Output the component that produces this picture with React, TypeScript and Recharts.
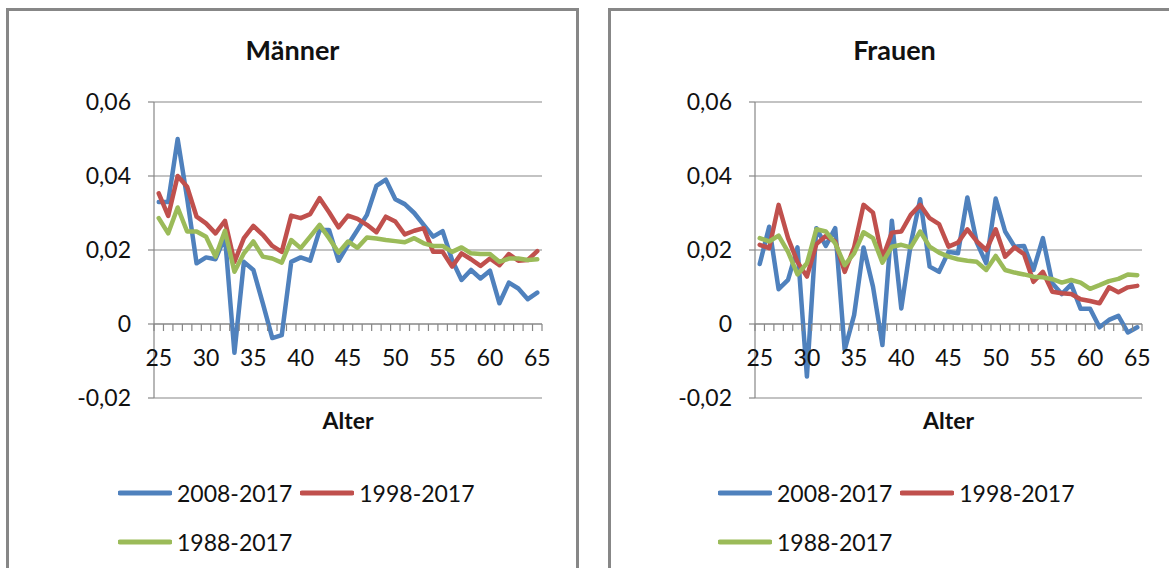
import React from 'react';
import { LineChart, Line, XAxis, YAxis, CartesianGrid, ReferenceLine } from 'recharts';

const ages = [25, 26, 27, 28, 29, 30, 31, 32, 33, 34, 35, 36, 37, 38, 39, 40, 41, 42, 43, 44, 45, 46, 47, 48, 49, 50, 51, 52, 53, 54, 55, 56, 57, 58, 59, 60, 61, 62, 63, 64, 65];
const xLabelAges = [25, 30, 35, 40, 45, 50, 55, 60, 65];
const yTicks = [-0.02, 0, 0.02, 0.04, 0.06];

const seriesNames = ['2008-2017', '1998-2017', '1988-2017'];
const seriesColors = ['#4F81BD', '#C0504D', '#9BBB59'];

const menBlue = [0.033, 0.033, 0.05, 0.034, 0.0164, 0.018, 0.0175, 0.0236, -0.0078, 0.0168, 0.0146, 0.0056, -0.0038, -0.003, 0.0168, 0.018, 0.0171, 0.0254, 0.0254, 0.0171, 0.0214, 0.0254, 0.0295, 0.0373, 0.039, 0.0337, 0.0324, 0.03, 0.0268, 0.0236, 0.0251, 0.0173, 0.0119, 0.0146, 0.0123, 0.0144, 0.0056, 0.0112, 0.0096, 0.0067, 0.0085];
const menRed = [0.0353, 0.0292, 0.04, 0.0371, 0.029, 0.0272, 0.0245, 0.0279, 0.0168, 0.0232, 0.0265, 0.0241, 0.0211, 0.0195, 0.0293, 0.0286, 0.0297, 0.034, 0.0302, 0.0261, 0.0293, 0.0284, 0.0268, 0.0248, 0.029, 0.0277, 0.0242, 0.0252, 0.0259, 0.0195, 0.0195, 0.0155, 0.0191, 0.0175, 0.0157, 0.0177, 0.0159, 0.0189, 0.0171, 0.0173, 0.0197];
const menGreen = [0.0286, 0.0245, 0.0315, 0.025, 0.025, 0.0236, 0.0182, 0.0252, 0.0141, 0.0191, 0.0223, 0.0182, 0.0177, 0.0166, 0.0227, 0.0205, 0.0236, 0.0268, 0.0232, 0.0193, 0.0223, 0.0206, 0.0234, 0.0231, 0.0227, 0.0224, 0.0221, 0.0232, 0.0218, 0.0211, 0.0211, 0.0195, 0.0207, 0.0191, 0.0189, 0.0189, 0.0168, 0.0177, 0.0177, 0.0173, 0.0175];

const womenBlue = [0.0162, 0.0263, 0.0094, 0.0119, 0.0207, -0.0142, 0.0259, 0.0211, 0.0259, -0.007, 0.0024, 0.0207, 0.0101, -0.0057, 0.0279, 0.0042, 0.0216, 0.0337, 0.0155, 0.0141, 0.0195, 0.0191, 0.0342, 0.022, 0.0164, 0.0339, 0.025, 0.0209, 0.0211, 0.0146, 0.0232, 0.011, 0.0081, 0.0107, 0.0041, 0.0041, -0.0009, 0.0011, 0.0022, -0.0023, -0.0009];
const womenRed = [0.0214, 0.0205, 0.0322, 0.0232, 0.0168, 0.0128, 0.0216, 0.0238, 0.0223, 0.0141, 0.0207, 0.0322, 0.0301, 0.0177, 0.0247, 0.025, 0.0295, 0.0322, 0.0286, 0.027, 0.0209, 0.022, 0.0256, 0.0223, 0.02, 0.0256, 0.0182, 0.0207, 0.0189, 0.0114, 0.0141, 0.0087, 0.0083, 0.0081, 0.0067, 0.0062, 0.0056, 0.0099, 0.0086, 0.0099, 0.0103];
const womenGreen = [0.0232, 0.0223, 0.0239, 0.0195, 0.0134, 0.0164, 0.0256, 0.025, 0.0218, 0.0159, 0.0191, 0.0248, 0.0232, 0.0166, 0.0209, 0.0214, 0.0207, 0.025, 0.0209, 0.0193, 0.0182, 0.0175, 0.0171, 0.0168, 0.0146, 0.0184, 0.0146, 0.0139, 0.0134, 0.0128, 0.0126, 0.0121, 0.0112, 0.0119, 0.0112, 0.0095, 0.0105, 0.0116, 0.0122, 0.0134, 0.0132];

const FONT = 'Lato, "Liberation Sans", Arial, sans-serif';
const GRAY = '#878787';
const TEXT = '#111';

const CHART_H = 568;
const PLOT_TOP = 102;
const X_AXIS_H = 30;
const MARGIN_BOTTOM = 140;
const PLOT_BOTTOM = CHART_H - MARGIN_BOTTOM - X_AXIS_H;
const Y_MIN = -0.02;
const Y_MAX = 0.06;
const ZERO_Y = PLOT_TOP + ((PLOT_BOTTOM - PLOT_TOP) * Y_MAX) / (Y_MAX - Y_MIN);
const Y_AXIS_W = 70;

const fmtY = (v: number) => (v === 0 ? '0' : v.toFixed(2).replace('.', ','));

type PanelProps = {
  title: string;
  pageLeft: number;
  chartWidth: number;
  marginLeft: number;
  marginRight: number;
  series: number[][];
  legendLeft: number;
};

function Panel({ pageLeft, chartWidth, marginLeft, marginRight, series, legendLeft }: PanelProps) {
  const data = ages.map((age, i) => ({ age, s0: series[0][i], s1: series[1][i], s2: series[2][i] }));
  const plotLeft = marginLeft + Y_AXIS_W;
  const plotRight = chartWidth - marginRight;
  const bw = (plotRight - plotLeft) / ages.length;

  const renderTick = (p: any) => {
    const { x, index, payload } = p;
    const age = payload.value;
    return (
      <g key={`t-${index}`}>
        <line x1={x - bw / 2} x2={x - bw / 2} y1={ZERO_Y} y2={ZERO_Y + 7} stroke={GRAY} strokeWidth={1.2} />
        {index === ages.length - 1 ? (
          <line x1={x + bw / 2} x2={x + bw / 2} y1={ZERO_Y} y2={ZERO_Y + 7} stroke={GRAY} strokeWidth={1.2} />
        ) : null}
        {xLabelAges.includes(age) ? (
          <text x={x} y={ZERO_Y + 33} textAnchor="middle" dominantBaseline="central" fontSize={23} fontFamily={FONT} fill={TEXT}>
            {age}
          </text>
        ) : null}
      </g>
    );
  };

  return (
    <>
      <div
        style={{
          position: 'absolute',
          left: pageLeft + plotLeft,
          width: plotRight - plotLeft,
          top: 406,
          textAlign: 'center',
          fontFamily: FONT,
          fontWeight: 700,
          fontSize: 23,
          lineHeight: '28px',
          color: TEXT,
        }}
      >
        Alter
      </div>
      <div style={{ position: 'absolute', left: pageLeft, top: 0 }}>
        <LineChart
          width={chartWidth}
          height={CHART_H}
          data={data}
          margin={{ top: PLOT_TOP, right: marginRight, bottom: MARGIN_BOTTOM, left: marginLeft }}
        >
          <CartesianGrid vertical={false} stroke={GRAY} strokeWidth={1.2} />
          <XAxis
            dataKey="age"
            interval={0}
            tickLine={false}
            axisLine={false}
            height={X_AXIS_H}
            padding={{ left: bw / 2, right: bw / 2 }}
            tick={renderTick}
          />
          <YAxis
            type="number"
            domain={[Y_MIN, Y_MAX]}
            ticks={yTicks}
            tickFormatter={fmtY}
            width={Y_AXIS_W}
            tickSize={6}
            tickMargin={17}
            axisLine={{ stroke: GRAY, strokeWidth: 1.2 }}
            tickLine={{ stroke: GRAY, strokeWidth: 1.2 }}
            tick={{ fontSize: 23, fontFamily: FONT, fill: TEXT }}
          />
          <ReferenceLine y={0} stroke={GRAY} strokeWidth={1.2} />
          {seriesNames.map((name, k) => (
            <Line
              key={name}
              name={name}
              dataKey={`s${k}`}
              type="linear"
              stroke={seriesColors[k]}
              strokeWidth={4.5}
              strokeLinejoin="round"
              strokeLinecap="round"
              dot={false}
              activeDot={false}
              isAnimationActive={false}
            />
          ))}
        </LineChart>
      </div>
      <div
        style={{
          position: 'absolute',
          left: legendLeft,
          top: 468,
          width: 400,
          display: 'flex',
          flexWrap: 'wrap',
          fontFamily: FONT,
          fontSize: 23,
          color: TEXT,
        }}
      >
        {seriesNames.map((name, k) => (
          <div key={name} style={{ display: 'flex', alignItems: 'center', height: 49, marginRight: 8 }}>
            <svg width={54} height={8} style={{ marginRight: 5 }}>
              <line x1={2} x2={52} y1={4} y2={4} stroke={seriesColors[k]} strokeWidth={5} strokeLinecap="round" />
            </svg>
            <span>{name}</span>
          </div>
        ))}
      </div>
    </>
  );
}

export default function App() {
  return (
    <div style={{ position: 'absolute', left: 0, top: 0, width: 1169, height: 568, background: '#fff', overflow: 'hidden' }}>
      <div style={{ position: 'absolute', left: 6, top: 8, width: 573, height: 620, border: `3px solid ${GRAY}`, boxSizing: 'border-box' }} />
      <div style={{ position: 'absolute', left: 608, top: 8, width: 573, height: 620, border: `3px solid ${GRAY}`, boxSizing: 'border-box' }} />
      <div style={{ position: 'absolute', left: 6, width: 573, top: 34, textAlign: 'center', fontFamily: FONT, fontWeight: 700, fontSize: 27, lineHeight: '32px', color: TEXT }}>
        Männer
      </div>
      <div style={{ position: 'absolute', left: 608, width: 573, top: 34, textAlign: 'center', fontFamily: FONT, fontWeight: 700, fontSize: 27, lineHeight: '32px', color: TEXT }}>
        Frauen
      </div>
      <Panel title="Männer" pageLeft={0} chartWidth={580} marginLeft={84} marginRight={38} series={[menBlue, menRed, menGreen]} legendLeft={118} />
      <Panel title="Frauen" pageLeft={600} chartWidth={569} marginLeft={85} marginRight={27} series={[womenBlue, womenRed, womenGreen]} legendLeft={718} />
    </div>
  );
}
